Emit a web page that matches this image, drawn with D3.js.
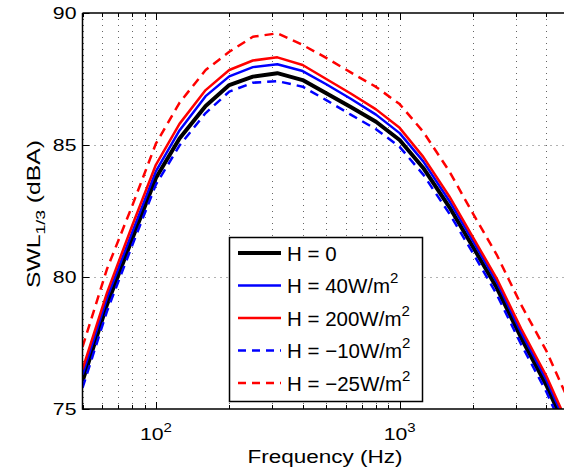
<!DOCTYPE html>
<html><head><meta charset="utf-8">
<script src="https://cdn.jsdelivr.net/npm/d3@7"></script>
<style>body{margin:0;background:#fff}svg{display:block}text{font-family:"Liberation Sans",Arial,sans-serif}</style>
</head><body>
<svg id="c" width="564" height="471"></svg>
<script>
const freqs = [50,63,80,100,125,160,200,250,315,400,500,630,800,1000,1250,1600,2000,2500,3150,4000,5000];
const h0    = [76.05,78.95,81.45,83.75,85.25,86.48,87.27,87.59,87.72,87.46,86.96,86.44,85.88,85.19,84.13,82.65,81.14,79.6,77.7,75.9,73.9];
const h40   = [76.3,79.2,81.7,84.0,85.55,86.85,87.6,87.95,88.06,87.8,87.3,86.75,86.15,85.45,84.38,82.88,81.36,79.82,77.9,76.1,74.1];
const h200  = [76.5,79.4,81.95,84.25,85.8,87.08,87.84,88.2,88.32,88.03,87.5,86.95,86.35,85.65,84.55,83.05,81.5,79.95,78.05,76.25,74.25];
const hm10  = [75.8,78.7,81.2,83.5,84.98,86.21,87.02,87.36,87.42,87.21,86.7,86.15,85.6,84.93,83.88,82.4,80.9,79.35,77.45,75.65,73.65];
const hm25  = [77.35,80.3,82.7,85.05,86.6,87.84,88.53,89.1,89.23,88.79,88.3,87.75,87.2,86.55,85.5,84.0,82.4,80.85,78.95,77.2,75.2];
const seriesLabels = ["H = 0","H = 40W/m","H = 200W/m","H = \u221210W/m","H = \u221225W/m"];
const seriesSup = ["","2","2","2","2"];
const yTicks = [75,80,85,90];
const xMajor = [100,1000];
const xMinor = [50,60,70,80,90,200,300,400,500,600,700,800,900,2000,3000,4000,5000];

const styles = [
  {color:"#000000", width:4, dash:null},
  {color:"#0000ff", width:2.5, dash:null},
  {color:"#ff0000", width:2.5, dash:null},
  {color:"#0000ff", width:2.5, dash:"9,6"},
  {color:"#ff0000", width:2.5, dash:"9,6"}
];
const data = [h0,h40,h200,hm10,hm25];

const svg = d3.select("#c");
const L=82.5, R=570, T=13, B=409;
const SX = 1.25;
const x = d3.scaleLog().domain([50,5000]).range([L,R]);
const y = d3.scaleLinear().domain([75,90]).range([B,T]);

svg.append("defs").append("clipPath").attr("id","clip")
  .append("rect").attr("x",L).attr("y",T).attr("width",R-L).attr("height",B-T);

const grid = svg.append("g").attr("stroke","#000").attr("stroke-width",1).attr("stroke-dasharray","1,5").attr("opacity",0.6);
xMinor.concat(xMajor).forEach(f=>{
  grid.append("line").attr("x1",Math.round(x(f))+0.5).attr("x2",Math.round(x(f))+0.5).attr("y1",T).attr("y2",B);
});
[80,85].forEach(v=>{
  grid.append("line").attr("x1",L).attr("x2",R).attr("y1",Math.round(y(v))+0.5).attr("y2",Math.round(y(v))+0.5);
});

// ticks inside
const tk = svg.append("g").attr("stroke","#000").attr("stroke-width",1);
xMajor.forEach(f=>{
  const xx=Math.round(x(f))+0.5;
  tk.append("line").attr("x1",xx).attr("x2",xx).attr("y1",B).attr("y2",B-7);
  tk.append("line").attr("x1",xx).attr("x2",xx).attr("y1",T).attr("y2",T+7);
});
xMinor.forEach(f=>{
  const xx=Math.round(x(f))+0.5;
  tk.append("line").attr("x1",xx).attr("x2",xx).attr("y1",B).attr("y2",B-4);
  tk.append("line").attr("x1",xx).attr("x2",xx).attr("y1",T).attr("y2",T+4);
});
yTicks.forEach(v=>{
  const yy=Math.round(y(v))+0.5;
  tk.append("line").attr("x1",L).attr("x2",L+7).attr("y1",yy).attr("y2",yy);
});

const line = d3.line().x((d,i)=>x(freqs[i])).y(d=>y(d));
const plot = svg.append("g").attr("clip-path","url(#clip)");
data.forEach((s,k)=>{
  plot.append("path").attr("d",line(s)).attr("fill","none")
    .attr("stroke",styles[k].color).attr("stroke-width",styles[k].width)
    .attr("stroke-dasharray",styles[k].dash).attr("stroke-linejoin","round");
});

// axes border
svg.append("path").attr("d",`M${L},${T}H${R}M${L},${T}V${B}H${R}`)
  .attr("fill","none").attr("stroke","#000").attr("stroke-width",1.5);

// y tick labels
yTicks.forEach(v=>{
  svg.append("text").attr("transform",`translate(${L-6},${y(v)+6}) scale(${SX},1)`)
    .attr("text-anchor","end").attr("font-size",17).text(v);
});
// x tick labels
xMajor.forEach(f=>{
  const t=svg.append("text").attr("transform",`translate(${x(f)-16},440) scale(${SX},1)`)
    .attr("font-size",17);
  t.append("tspan").text("10");
  t.append("tspan").attr("dy",-8).attr("font-size",12).text(String(Math.log10(f)));
});

svg.append("text").attr("transform",`translate(325,463) scale(${SX},1)`).attr("text-anchor","middle")
  .attr("font-size",18).text("Frequency (Hz)");
const yl = svg.append("text").attr("transform",`translate(40,214) rotate(-90) scale(1.3,1)`)
  .attr("text-anchor","middle").attr("font-size",19);
yl.append("tspan").text("SWL");
yl.append("tspan").attr("dy",5).attr("font-size",13.5).text("1/3");
yl.append("tspan").attr("dy",-5).text(" (dBA)");

// legend
const lg = svg.append("g");
lg.append("rect").attr("x",229.5).attr("y",237.5).attr("width",193).attr("height",164)
  .attr("fill","#fff").attr("stroke","#000").attr("stroke-width",1.5);
seriesLabels.forEach((lab,k)=>{
  const yy = 253 + k*32.5;
  lg.append("line").attr("x1",238).attr("x2",281).attr("y1",yy).attr("y2",yy)
    .attr("stroke",styles[k].color).attr("stroke-width",styles[k].width)
    .attr("stroke-dasharray",styles[k].dash ? "8,6" : null);
  const t = lg.append("text").attr("x",287).attr("y",yy+7.5).attr("font-size",20.5);
  t.append("tspan").text(lab);
  if (seriesSup[k]) t.append("tspan").attr("dy",-10).attr("font-size",15).text(seriesSup[k]);
});
</script>
</body></html>
